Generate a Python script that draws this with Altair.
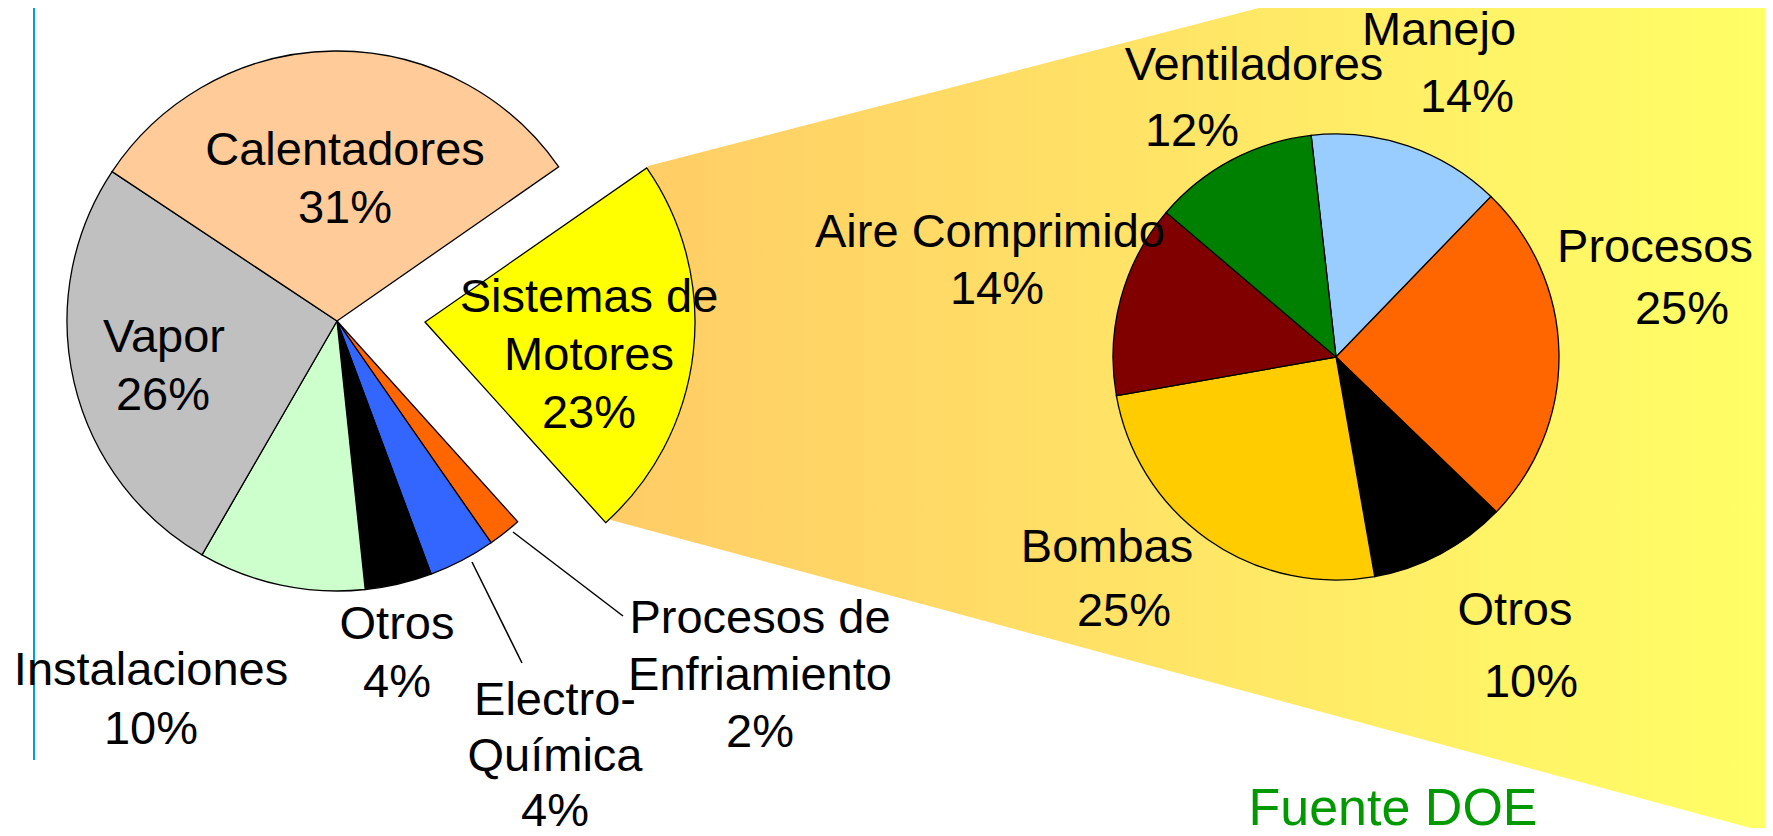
import math
import altair as alt
import pandas as pd

# ---------------- data ----------------
main_cats = ["Sistemas de Motores", "Procesos de Enfriamiento", "Electro-Química",
             "Otros", "Instalaciones", "Vapor", "Calentadores"]
main_pct = [23, 2, 4, 4, 10, 26, 31]
main_colors = ["#FFFF00", "#FF6600", "#3366FF", "#000000", "#CCFFCC", "#C0C0C0", "#FFCC99"]
main_lines = {
    "Sistemas de Motores": ["Sistemas de", "Motores"],
    "Procesos de Enfriamiento": ["Procesos de", "Enfriamiento"],
    "Electro-Química": ["Electro-", "Química"],
    "Otros": ["Otros"],
    "Instalaciones": ["Instalaciones"],
    "Vapor": ["Vapor"],
    "Calentadores": ["Calentadores"],
}
exploded = "Sistemas de Motores"

motor_cats = ["Manejo", "Procesos", "Otros", "Bombas", "Aire Comprimido", "Ventiladores"]
motor_pct = [14, 25, 10, 25, 14, 12]
motor_colors = ["#99CCFF", "#FF6600", "#000000", "#FFCC00", "#800000", "#008000"]

source_text = "Fuente DOE"

# ---------------- layout (page pixels) ----------------
W, H, M = 1757, 820, 8
XS = alt.Scale(domain=[M, M + W], range=[0, W], zero=False, nice=False)
YS = alt.Scale(domain=[M, M + H], range=[0, H], zero=False, nice=False)

main_center, main_r, main_start = (337, 321), 270, math.radians(55.2)
explode_off = (88, 1)
motor_center, motor_r, motor_start = (1336, 357), 223, math.radians(353.6)

main_pos = {
    "Calentadores": [(345, 165), (345, 223)],
    "Vapor": [(164, 352), (163, 410)],
    "Sistemas de Motores": [(589, 312), (589, 370), (589, 428)],
    "Instalaciones": [(151, 685), (151, 744)],
    "Otros": [(397, 639), (397, 697)],
    "Electro-Química": [(555, 715), (555, 771), (555, 826)],
    "Procesos de Enfriamiento": [(760, 633), (760, 690), (760, 747)],
}
motor_pos = {
    "Manejo": [(1439, 45), (1467, 112)],
    "Ventiladores": [(1254, 80), (1192, 146)],
    "Aire Comprimido": [(990, 247), (997, 304)],
    "Procesos": [(1655, 262), (1682, 324)],
    "Bombas": [(1107, 562), (1124, 626)],
    "Otros": [(1515, 625), (1531, 697)],
}
leader_pos = [((472, 562), (522, 663)), ((513, 532), (623, 616))]
fan_pts = [(611, 520, 520), (648, 166, 530), (1773, -125, 834)]
blue_line = ((34, 0), (34, 760))
source_pos = (1393, 825)

FONT = "Liberation Sans"
FS = 47

# ---------------- tables ----------------
main_df = pd.DataFrame({"cat": main_cats, "pct": main_pct, "idx": list(range(len(main_cats)))})
motor_df = pd.DataFrame({"sub": motor_cats, "pct": motor_pct, "idx": list(range(len(motor_cats)))})

rows = []
for cat, pct in zip(main_cats, main_pct):
    for t, (x, y) in zip(main_lines[cat] + [f"{pct}%"], main_pos[cat]):
        rows.append({"t": t, "x": x, "y": y})
for cat, pct in zip(motor_cats, motor_pct):
    for t, (x, y) in zip([cat, f"{pct}%"], motor_pos[cat]):
        rows.append({"t": t, "x": x, "y": y})
label_df = pd.DataFrame(rows)

leader_df = pd.DataFrame([{"x": a[0], "y": a[1], "x2": b[0], "y2": b[1]} for a, b in leader_pos])
fan_df = pd.DataFrame([{"x": x, "y": y, "y2": y2} for x, y, y2 in fan_pts])
blue_df = pd.DataFrame([{"x": blue_line[0][0], "y": blue_line[0][1], "y2": blue_line[1][1]}])
src_df = pd.DataFrame([{"t": source_text, "x": source_pos[0], "y": source_pos[1]}])

# ---------------- marks ----------------
grad = alt.Gradient(
    gradient="linear",
    stops=[alt.GradientStop(color="#FFCC66", offset=0), alt.GradientStop(color="#FFFF66", offset=1)],
    x1=0, x2=1, y1=0, y2=0,
)
fan = alt.Chart(fan_df).mark_area(orient="vertical", color=grad, clip=True).encode(
    x=alt.X("x:Q", scale=XS, axis=None),
    y=alt.Y("y:Q", scale=YS, axis=None),
    y2="y2:Q",
)

blue = alt.Chart(blue_df).mark_rule(color="#00A0D8", strokeWidth=2).encode(
    x=alt.X("x:Q", scale=XS, axis=None),
    y=alt.Y("y:Q", scale=YS, axis=None),
    y2="y2:Q",
)


def pie(df, field, cats, colors, center, r, start, total, opacity, offset=(0, 0)):
    return alt.Chart(df).mark_arc(
        radius=r, stroke="black", strokeWidth=1.3, xOffset=offset[0], yOffset=offset[1]
    ).encode(
        theta=alt.Theta("pct:Q", stack=True,
                        scale=alt.Scale(domain=[0, total], range=[start, start + 2 * math.pi])),
        color=alt.Color(f"{field}:N", scale=alt.Scale(domain=cats, range=colors), legend=None),
        order=alt.Order("idx:Q", sort="ascending"),
        opacity=opacity,
        x=alt.value(center[0] - M),
        y=alt.value(center[1] - M),
    )


main_total = sum(main_pct)
pie_rest = pie(main_df, "cat", main_cats, main_colors, main_center, main_r, main_start, main_total,
               alt.when(alt.datum.cat == exploded).then(alt.value(0)).otherwise(alt.value(1)))
pie_exp = pie(main_df, "cat", main_cats, main_colors, main_center, main_r, main_start, main_total,
              alt.when(alt.datum.cat == exploded).then(alt.value(1)).otherwise(alt.value(0)),
              offset=explode_off)
pie_motor = pie(motor_df, "sub", motor_cats, motor_colors, motor_center, motor_r, motor_start,
                sum(motor_pct), alt.value(1))

leaders = alt.Chart(leader_df).mark_rule(color="black", strokeWidth=1.5).encode(
    x=alt.X("x:Q", scale=XS, axis=None),
    y=alt.Y("y:Q", scale=YS, axis=None),
    x2="x2:Q",
    y2="y2:Q",
)

labels = alt.Chart(label_df).mark_text(
    font=FONT, fontSize=FS, align="center", baseline="alphabetic", color="black"
).encode(
    x=alt.X("x:Q", scale=XS, axis=None),
    y=alt.Y("y:Q", scale=YS, axis=None),
    text="t:N",
)

source = alt.Chart(src_df).mark_text(
    font=FONT, fontSize=52, align="center", baseline="alphabetic", color="#009900"
).encode(
    x=alt.X("x:Q", scale=XS, axis=None),
    y=alt.Y("y:Q", scale=YS, axis=None),
    text="t:N",
)

chart = alt.layer(fan, blue, pie_rest, pie_exp, pie_motor, leaders, labels, source).resolve_scale(
    theta="independent", color="independent", opacity="independent"
).properties(
    width=W, height=H, padding=0, autosize=alt.AutoSizeParams(type="none"),
    background="white",
).configure_view(strokeWidth=0)

chart.save("out.html", embed_options={"renderer": "svg", "actions": False})
